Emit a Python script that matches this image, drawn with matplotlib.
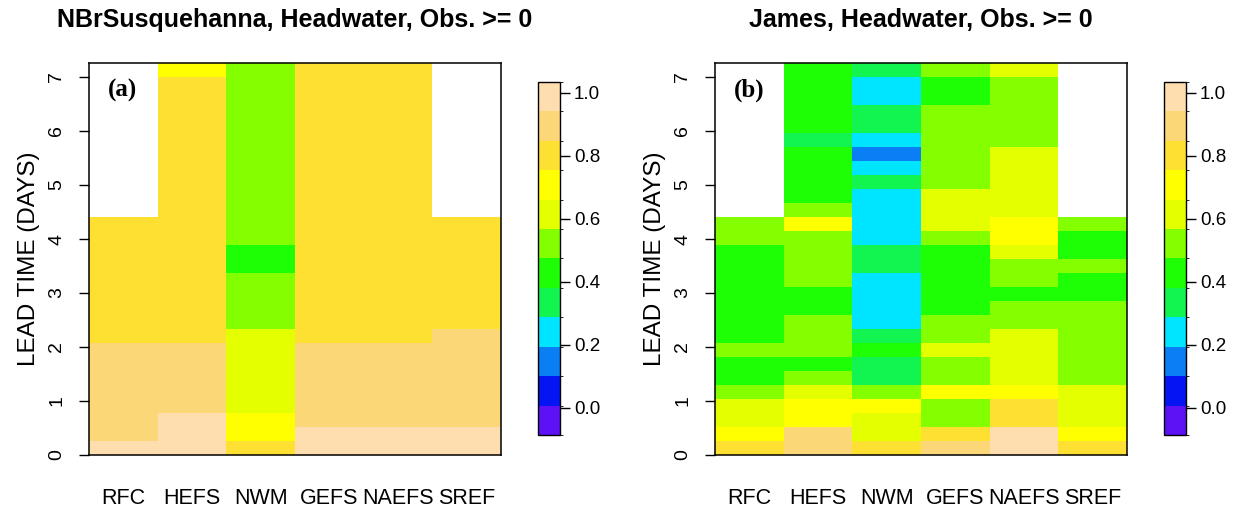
import numpy as np
import matplotlib
matplotlib.use("Agg")
import matplotlib.pyplot as plt
from matplotlib.colors import ListedColormap, BoundaryNorm
from matplotlib.cm import ScalarMappable

plt.rcParams['font.family'] = ['Liberation Sans', 'DejaVu Sans']

models = ['RFC', 'HEFS', 'NWM', 'GEFS', 'NAEFS', 'SREF']
titles = ['NBrSusquehanna, Headwater, Obs. >= 0', 'James, Headwater, Obs. >= 0']
tags = ['(a)', '(b)']

# class values (one value per colour band)
P, L, G, Y, E, C, N, S, Q, A = 0.99, 0.90, 0.80, 0.71, 0.61, 0.52, 0.43, 0.33, 0.24, 0.15
X = np.nan   # no forecast at that lead time

# rows go from the shortest lead time (bottom) to the longest (top), 28 rows
susq_rfc = [P] + [L]*7 + [G]*9 + [X]*11
susq_hefs = [P]*3 + [L]*5 + [G]*19 + [Y]
susq_nwm = [G] + [Y]*2 + [E]*6 + [C]*4 + [N]*2 + [C]*13
susq_gefs = [P]*2 + [L]*6 + [G]*20
susq_naefs = [P]*2 + [L]*6 + [G]*20
susq_sref = [P]*2 + [L]*7 + [G]*8 + [X]*11

james_rfc = [G, Y, E, E, C, N, N, C] + [N]*7 + [C, C] + [X]*11
james_hefs = [L, L, Y, Y, E, C, N, C, C, C, N, N, C, C, C, C, Y, C] + [N]*4 + [S] + [N]*5
james_nwm = [G, E, E, Y, C, S, S, N, S, Q, Q, Q, Q, S, S, Q, Q, Q, Q, S, Q, A, Q, S, S, Q, Q, S]
james_gefs = [L, G, C, C, Y, C, C, E, C, C, N, N, N, N, N, C, E, E, E, C, C, C, C, C, C, N, N, C]
james_naefs = [P, P, G, G, Y, E, E, E, E, C, C, N, C, C, E, Y, Y, E, E, E, E, E, C, C, C, C, C, E]
james_sref = [G, Y, E, E, E, C, C, C, C, C, C, N, N, C, N, N, C] + [X]*11

panels = [
    np.array([susq_rfc, susq_hefs, susq_nwm, susq_gefs, susq_naefs, susq_sref]).T,
    np.array([james_rfc, james_hefs, james_nwm, james_gefs, james_naefs, james_sref]).T,
]

colors = ['#5C12F5', '#0414F2', '#0A7EF5', '#00E5FF', '#12F550', '#1EFF06',
          '#84FF00', '#E3FF00', '#FFFF00', '#FEE033', '#FCD778', '#FEDEAF']
vmin, vmax = -0.087, 1.035
bounds = np.linspace(vmin, vmax, len(colors) + 1)
cmap = ListedColormap(colors)
norm = BoundaryNorm(bounds, cmap.N)

nrow = 28
row_h = 7 / 27
y_edges = np.arange(nrow + 1) * row_h
x_edges = np.arange(len(models) + 1)

fig = plt.figure(figsize=(12.47, 5.14), dpi=100)

ax_pos = [[0.0714, 0.1148, 0.3304, 0.7626], [0.5734, 0.1148, 0.3304, 0.7626]]
cb_pos = [[0.4314, 0.1537, 0.0176, 0.6868], [0.9334, 0.1537, 0.0176, 0.6868]]

for i in range(2):
    ax = fig.add_axes(ax_pos[i])
    ax.pcolormesh(x_edges, y_edges, panels[i], cmap=cmap, norm=norm)
    ax.set_xlim(0, len(models))
    ax.set_ylim(0, nrow * row_h)
    ax.set_xticks(np.arange(len(models)) + 0.5)
    ax.set_xticklabels(models, fontsize=15.5)
    ax.tick_params(axis='x', length=0, pad=24)
    ax.set_yticks(range(8))
    ax.set_yticklabels([str(d) for d in range(8)], rotation=90, va='center', fontsize=14)
    ax.tick_params(axis='y', length=7, width=1, pad=10)
    ax.set_ylabel('LEAD TIME (DAYS)', fontsize=17.5, labelpad=6)
    for sp in ax.spines.values():
        sp.set_linewidth(1.1)
    ax.set_title(titles[i], fontsize=18, fontweight='bold', pad=26)
    ax.text(0.046, 0.93, tags[i], transform=ax.transAxes, ha='left', va='center',
            fontsize=18, fontweight='bold', family='Liberation Serif')

    cax = fig.add_axes(cb_pos[i])
    cb = fig.colorbar(ScalarMappable(norm=norm, cmap=cmap), cax=cax,
                      ticks=[0, 0.2, 0.4, 0.6, 0.8, 1.0])
    cb.ax.set_yticklabels(['0.0', '0.2', '0.4', '0.6', '0.8', '1.0'], fontsize=13.5)
    cb.ax.tick_params(length=7, width=1, pad=3)
    cb.outline.set_linewidth(1)

plt.savefig('out.png', dpi=100)
